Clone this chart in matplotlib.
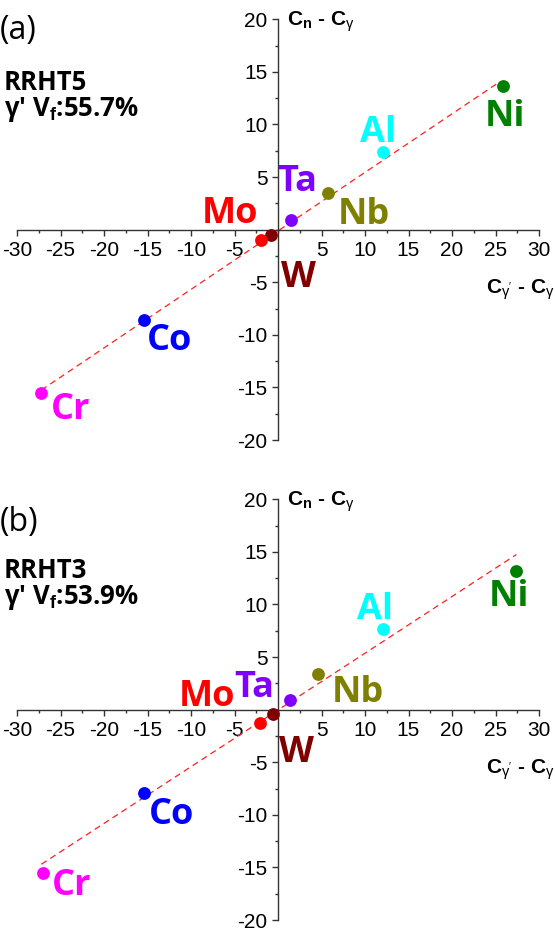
import matplotlib
matplotlib.use("Agg")
import matplotlib.pyplot as plt
from matplotlib.ticker import MultipleLocator, FixedLocator

plt.rcParams['font.family'] = ['Liberation Sans', 'DejaVu Sans']
plt.rcParams['axes.unicode_minus'] = False
plt.rcParams['mathtext.fontset'] = 'custom'
plt.rcParams['mathtext.rm'] = 'Liberation Sans'
plt.rcParams['mathtext.it'] = 'Liberation Sans:italic'
plt.rcParams['mathtext.bf'] = 'Liberation Sans:bold'

# element data
elements = ['Ni', 'Al', 'Nb', 'Ta', 'W', 'Mo', 'Co', 'Cr']
colours = ['#008000', '#00FFFF', '#808000', '#8000FF', '#800000', '#FF0000', '#0000FF', '#FF00FF']

# panel (a) RRHT5
xa = [25.9, 12.1, 5.7, 1.55, -0.8, -1.95, -15.4, -27.2]
ya = [13.65, 7.4, 3.45, 0.87, -0.55, -1.03, -8.6, -15.55]
lab_xa = [26.1, 11.5, 9.85, 2.2, 2.4, -5.55, -12.45, -23.8]
lab_ya = [9.85, 8.35, 0.55, 3.65, -5.45, 0.65, -11.45, -18.05]
line_xa = [-27.2, 25.5]
line_ya = [-15.25, 14.07]

# panel (b) RRHT3
xb = [27.35, 12.05, 4.6, 1.42, -0.6, -2.05, -15.45, -27.0]
yb = [13.2, 7.67, 3.39, 0.92, -0.44, -1.24, -7.96, -15.56]
lab_xb = [26.5, 11.1, 9.2, -2.7, 2.15, -8.2, -12.25, -23.7]
lab_yb = [9.85, 8.65, 0.72, 1.25, -4.95, 0.35, -10.9, -17.6]
line_xb = [-27.2, 27.4]
line_yb = [-14.7, 14.75]

panels = [
    ('(a)', "RRHT5\nγ' V$_\\mathbf{f}$:55.7%", xa, ya, lab_xa, lab_ya, line_xa, line_ya),
    ('(b)', "RRHT3\nγ' V$_\\mathbf{f}$:53.9%", xb, yb, lab_xb, lab_yb, line_xb, line_yb),
]

xticks = [-30, -25, -20, -15, -10, -5, 5, 10, 15, 20, 25, 30]
yticks = [-20, -15, -10, -5, 5, 10, 15, 20]

fig = plt.figure(figsize=(5.55, 9.31), dpi=100)
W, H = 555, 931

# axes boxes in pixels: (left, top of y=20, bottom of y=-20)
boxes = [(17, 19.3, 440), (17, 499.3, 920)]
tag_y = [30, 522]
vf_y = [116, 604]

axis_col = '#333333'

for i, (tag, name, xs, ys, lx, ly, lnx, lny) in enumerate(panels):
    left, top, bot = boxes[i]
    ax = fig.add_axes([left / W, 1 - bot / H, (539 - left) / W, (bot - top) / H])
    ax.set_xlim(-30, 30)
    ax.set_ylim(-20, 20)
    ax.patch.set_alpha(0)

    for s in ['top', 'right']:
        ax.spines[s].set_visible(False)
    for s in ['left', 'bottom']:
        ax.spines[s].set_position(('data', 0))
        ax.spines[s].set_color(axis_col)
        ax.spines[s].set_linewidth(1.0)

    ax.xaxis.set_major_locator(FixedLocator(xticks))
    ax.yaxis.set_major_locator(FixedLocator(yticks))
    ax.xaxis.set_minor_locator(MultipleLocator(2.5))
    ax.yaxis.set_minor_locator(MultipleLocator(2.5))
    ax.tick_params(which='both', direction='out', color=axis_col, width=1.0)
    ax.tick_params(which='major', length=4.5)
    ax.tick_params(which='minor', length=2.4)
    ax.tick_params(axis='x', which='major', pad=4, labelsize=15)
    ax.tick_params(axis='y', which='major', pad=3, labelsize=15)

    ax.plot(lnx, lny, color='#FF2020', lw=0.9, dashes=(5, 3.5), zorder=2)

    for e, c, x, y, tx, ty in zip(elements, colours, xs, ys, lx, ly):
        ax.scatter([x], [y], s=85, color=c, zorder=3, linewidths=0)
        ax.text(tx, ty, e, color=c, fontsize=26, fontweight='bold',
                fontfamily='Open Sans', ha='center', va='baseline', zorder=4)

    ax.text(1.0, 19.35, r'C$_\mathbf{n}$ - C$_\mathrm{\gamma}$', fontsize=15,
            fontweight='bold', ha='left', va='baseline', clip_on=False)
    ax.text(31.8, -6.1, r"C$_\mathrm{\gamma'}$ - C$_\mathrm{\gamma}$", fontsize=15,
            fontweight='bold', ha='right', va='baseline', clip_on=False)

    fig.text(0, 1 - tag_y[i] / H, tag, fontsize=23, fontfamily='Open Sans',
             ha='left', va='center')
    fig.text(4 / W, 1 - vf_y[i] / H, name, fontsize=18.5, fontweight='bold',
             fontfamily='Open Sans', ha='left', va='baseline', linespacing=0.95)

fig.savefig('out.png', dpi=100)
